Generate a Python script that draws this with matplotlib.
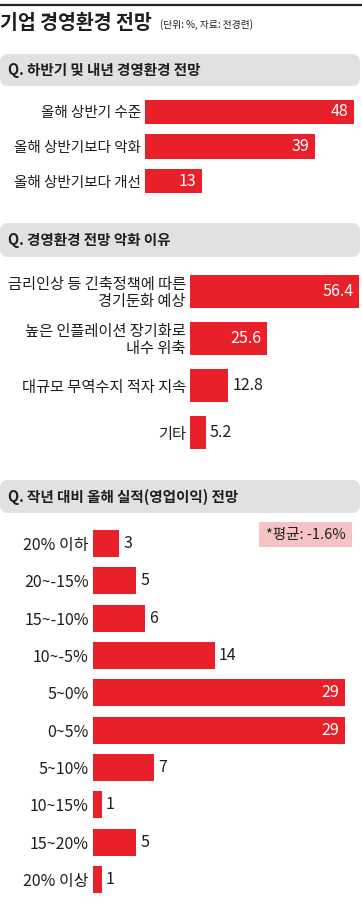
import matplotlib
matplotlib.use("Agg")
from matplotlib import pyplot as plt
from matplotlib.patches import FancyBboxPatch, Rectangle

plt.rcParams['font.family'] = ['Noto Sans CJK KR', 'DejaVu Sans']

# data
outlook_labels = ["올해 상반기 수준", "올해 상반기보다 악화", "올해 상반기보다 개선"]
outlook_values = [48, 39, 13]

reason_labels = ["금리인상 등 긴축정책에 따른\n경기둔화 예상", "높은 인플레이션 장기화로\n내수 위축",
                 "대규모 무역수지 적자 지속", "기타"]
reason_values = [56.4, 25.6, 12.8, 5.2]

profit_labels = ["20% 이하", "20~-15%", "15~-10%", "10~-5%", "5~0%", "0~5%",
                 "5~10%", "10~15%", "15~20%", "20% 이상"]
profit_values = [3, 5, 6, 14, 29, 29, 7, 1, 5, 1]

title = "기업 경영환경 전망"
subtitle = "(단위: %, 자료: 전경련)"
headers = ["Q. 하반기 및 내년 경영환경 전망", "Q. 경영환경 전망 악화 이유",
           "Q. 작년 대비 올해 실적(영업이익) 전망"]
note = "*평균: -1.6%"

RED = "#e8202a"
GREY = "#e0e1e3"
PINK = "#f5c3c6"
DARK = "#1e1e1e"

W, H = 362, 906
fig = plt.figure(figsize=(W / 100, H / 100), dpi=100)

# background layer in pixel coordinates
bg = fig.add_axes([0, 0, 1, 1])
bg.set_xlim(0, W)
bg.set_ylim(H, 0)
bg.axis("off")
bg.set_zorder(0)

bg.plot([0, W], [5, 5], color="#222222", lw=1.6, solid_capstyle="butt")
bg.text(0, 23, title, fontsize=14, fontweight="bold", color=DARK, va="center", ha="left")
bg.text(160, 25, subtitle, fontsize=7, color=DARK, va="center", ha="left")

for txt, (y0, y1) in zip(headers, [(54, 86), (223, 257), (480, 513)]):
    bg.add_patch(FancyBboxPatch((5, y0 + 5), 350, (y1 - y0) - 10,
                                boxstyle="round,pad=5,rounding_size=8",
                                fc=GREY, ec="none"))
    bg.text(8, (y0 + y1) / 2, txt, fontsize=10.5, fontweight="bold", color=DARK,
            va="center", ha="left")

bg.add_patch(Rectangle((259, 522), 93, 25, fc=PINK, ec="none"))
bg.text(305.5, 534.5, note, fontsize=10.5, color=DARK, va="center", ha="center")


def bar_panel(labels, values, left, first, step, bar_px, scale, inside_min, fs):
    n = len(values)
    top = first - step / 2
    height = step * n
    ax = fig.add_axes([left / W, 1 - (top + height) / H, (W - left) / W, height / H])
    ax.set_zorder(1)
    ax.patch.set_alpha(0)
    pos = list(range(n))
    ax.barh(pos, values, height=bar_px / step, color=RED, left=0)
    ax.set_ylim(n - 0.5, -0.5)
    ax.set_xlim(0, (W - left) / scale)
    ax.set_yticks(pos)
    ax.set_yticklabels(labels, fontsize=fs, color=DARK, linespacing=1.0)
    ax.tick_params(axis="y", length=0, pad=3)
    ax.set_xticks([])
    for s in ax.spines.values():
        s.set_visible(False)
    for i, v in enumerate(values):
        txt = f"{v:g}"
        if v >= inside_min:
            ax.annotate(txt, (v, i), xytext=(-4, 0), textcoords="offset points",
                        ha="right", va="center", color="white", fontsize=11.5)
        else:
            ax.annotate(txt, (v, i), xytext=(3, 0), textcoords="offset points",
                        ha="left", va="center", color=DARK, fontsize=11.5)
    return ax


bar_panel(outlook_labels, outlook_values, 145, 112, 34.5, 24.5, 4.35, 10, 10.5)
bar_panel(reason_labels, reason_values, 190, 291, 47.3, 33, 3.0, 20, 11)
bar_panel(profit_labels, profit_values, 93, 543.5, 37.33, 27, 8.69, 20, 11.5)

fig.savefig("out.png", dpi=100)
